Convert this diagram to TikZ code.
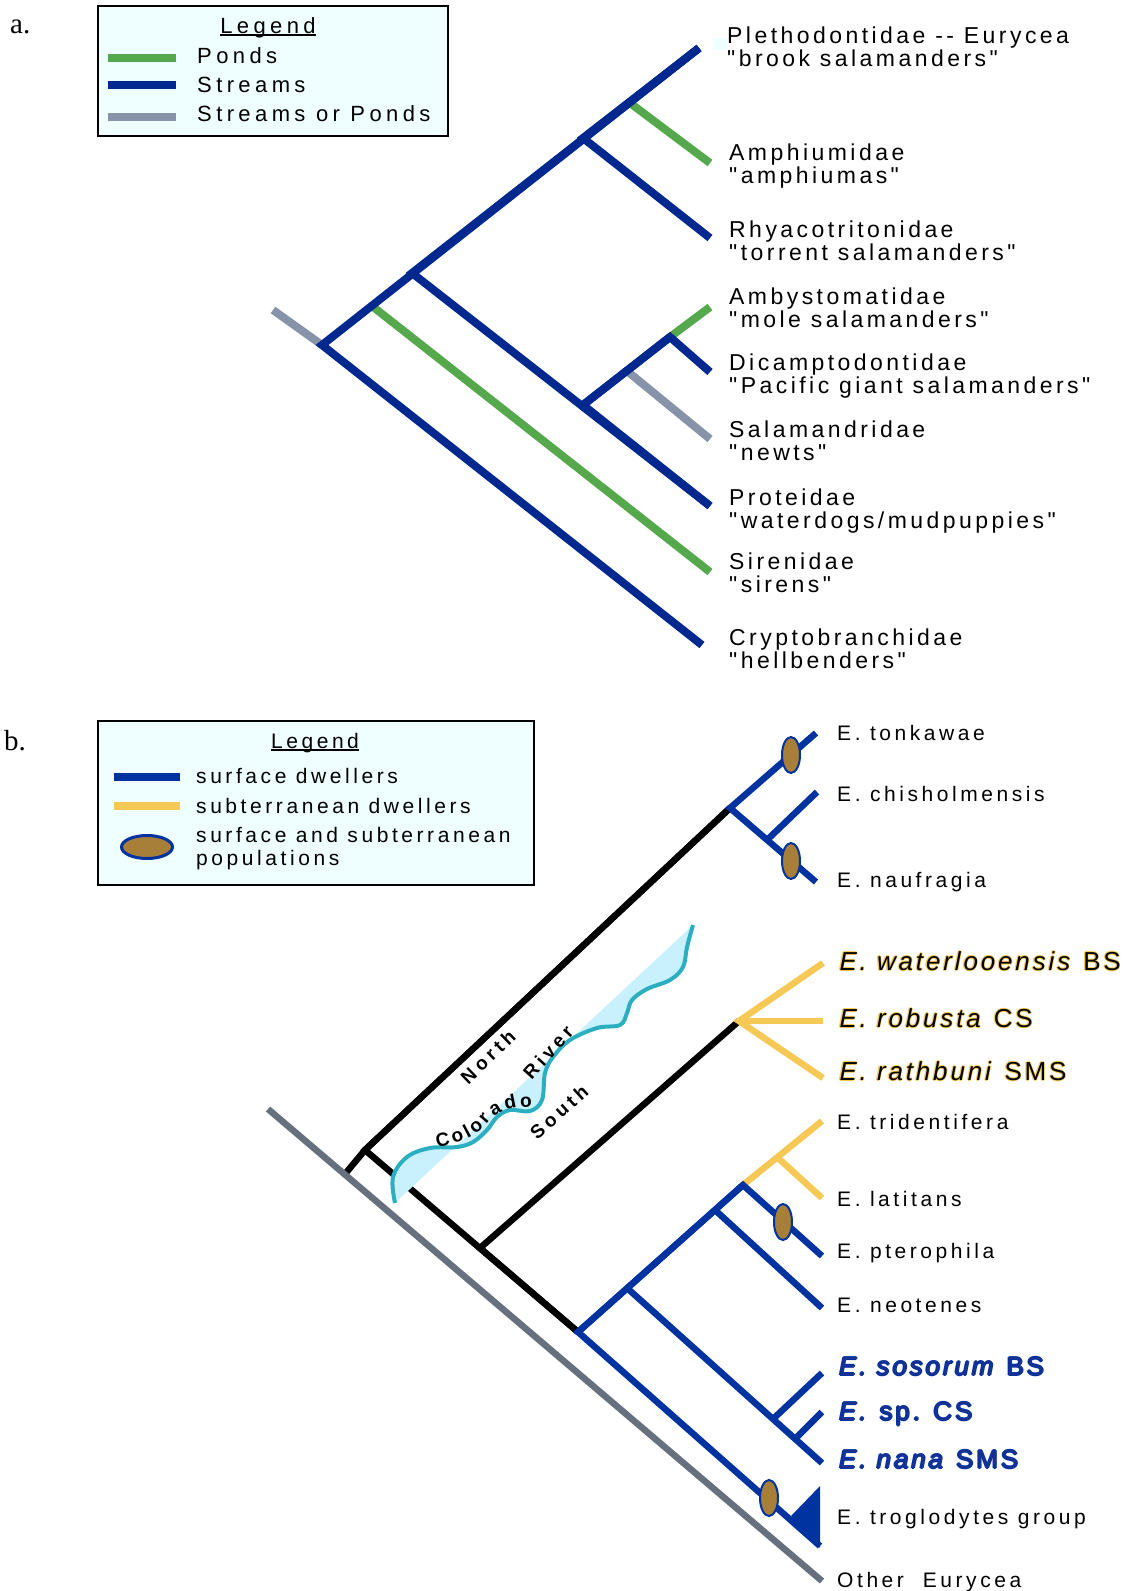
\documentclass[tikz,border=0pt]{standalone}
\usepackage{fontspec}
\setmainfont{Liberation Sans}
\newfontfamily\treefont[LetterSpace=15,Ligatures=TeXOff]{Liberation Sans}
\newfontfamily\legfont[LetterSpace=20,Ligatures=TeXOff]{Liberation Sans}
\newfontfamily\sppfont[LetterSpace=17,Ligatures=TeXOff]{Liberation Sans}
\newfontfamily\cavefont[LetterSpace=11,Ligatures=TeXOff]{Liberation Sans}
\newfontfamily\sidefont[LetterSpace=22,Ligatures=TeXOff]{Liberation Sans}
\newfontfamily\panelfont{Liberation Serif}
\usepackage{tikz}
\usetikzlibrary{shapes.geometric}
\usetikzlibrary{decorations.text}

\definecolor{streamblue}{HTML}{00288F}
\definecolor{pondgreen}{HTML}{55A84C}
\definecolor{eithergray}{HTML}{8793A8}
\definecolor{surfblue}{HTML}{0032A0}
\definecolor{subyellow}{HTML}{F6C855}
\definecolor{outgray}{HTML}{66707E}
\definecolor{popbrown}{HTML}{A87F38}
\definecolor{rivteal}{HTML}{2BAFC0}
\definecolor{rivfill}{HTML}{C8F1FD}
\definecolor{legfill}{HTML}{EFFFFF}
\definecolor{sppblue}{HTML}{1B3192}

\newcommand\ulined[1]{\setbox0\hbox{#1}\rlap{\rule[-2.5pt]{\wd0}{1.6pt}}\box0}
\newcommand\haloed[3]{\leavevmode\rlap{\color{#1}\kern-1pt#3}\rlap{\color{#1}\kern1pt#3}%
  \rlap{\color{#1}\raisebox{1pt}{#3}}\rlap{\color{#1}\raisebox{-1pt}{#3}}{\color{#2}\kern0.3pt#3}}
\newcommand\colfont{\bfseries\fontsize{19}{20}\selectfont}

\begin{document}
\begin{tikzpicture}[x=1pt, y=-1pt, line cap=butt, line join=miter]
      \tikzstyle{branch} = [line width=8pt]
      \tikzstyle{twig} = [line width=6.5pt]
      \tikzstyle{taxon} = [anchor=base west, inner sep=0pt, align=left, font=\treefont\fontsize{23}{23}\selectfont]
      \tikzstyle{legend text a} = [anchor=base west, inner sep=0pt, font=\legfont\fontsize{22}{23}\selectfont]
      \tikzstyle{species} = [anchor=base west, inner sep=0pt, align=left, font=\sppfont\fontsize{21}{23}\selectfont]
      \tikzstyle{cave species} = [anchor=base west, inner sep=0pt, font=\cavefont\fontsize{26}{28}\selectfont]
      \tikzstyle{population} = [ellipse, draw=surfblue, fill=popbrown, line width=2pt, minimum width=18pt, minimum height=36pt, inner sep=0pt]
      \tikzstyle{legend box} = [draw=black, line width=2pt, fill=legfill]
      \tikzstyle{side} = [inner sep=0pt, font=\sidefont\bfseries\fontsize{19}{20}\selectfont]
      \tikzstyle{panel} = [anchor=base west, inner sep=0pt, font=\panelfont\fontsize{29}{30}\selectfont]
      \useasboundingbox (0,0) rectangle (1132,1591);

      %%% a. families
      %nodes
      \node[panel] (panel a) at (10,33) {a.};
      \draw[legend box] (98,6) rectangle (448,136);
      \node[legend text a, anchor=base] (legend a) at (268,33) {\ulined{Legend}};
      \node[legend text a] (key ponds) at (197,63) {Ponds};
      \node[legend text a] (key streams) at (197,92) {Streams};
      \node[legend text a] (key either) at (197,121) {Streams or Ponds};
      \fill[legfill] (713,38) rectangle (727,50);
      % base of a two-line node = its second line
      \node[taxon] (pleth) at (727,66) {Plethodontidae -- Eurycea\\"brook salamanders"};
      \node[taxon] (amph) at (729,183) {Amphiumidae\\"amphiumas"};
      \node[taxon] (rhya) at (729,260.5) {Rhyacotritonidae\\"torrent salamanders"};
      \node[taxon] (amby) at (729,327.5) {Ambystomatidae\\"mole salamanders"};
      \node[taxon] (dica) at (729,393.5) {Dicamptodontidae\\"Pacific giant salamanders"};
      \node[taxon] (sala) at (729,460.5) {Salamandridae\\"newts"};
      \node[taxon] (prot) at (729,528.5) {Proteidae\\"waterdogs/mudpuppies"};
      \node[taxon] (sire) at (729,592.5) {Sirenidae\\"sirens"};
      \node[taxon] (cryp) at (729,668.5) {Cryptobranchidae\\"hellbenders"};

      \coordinate (a stem) at (273,310);
      \coordinate (a root) at (322,345);
      \coordinate (a sir) at (372,306);
      \coordinate (a pro) at (412,273);
      \coordinate (a rhy) at (583,138);
      \coordinate (a amp) at (630,103);
      \coordinate (a top) at (699,48);
      \coordinate (a cla) at (583,405);
      \coordinate (a sal) at (627,371);
      \coordinate (a dic) at (670,337);
      \coordinate (e cry) at (702,645);
      \coordinate (e sir) at (710,572);
      \coordinate (e pro) at (710,506);
      \coordinate (e sal) at (710,439);
      \coordinate (e dic) at (710,372);
      \coordinate (e amb) at (710,307);
      \coordinate (e rhy) at (710,238);
      \coordinate (e amp) at (710,163);

      %lines
      \draw[branch, pondgreen] (108,58) -- (176,58);
      \draw[branch, streamblue] (108,85) -- (176,85);
      \draw[branch, eithergray] (108,117) -- (176,117);
      \draw[branch, eithergray] (a stem) -- (a root);
      \draw[branch, eithergray] (a sal) -- (e sal);
      \draw[branch, pondgreen] (a sir) -- (e sir);
      \draw[branch, pondgreen] (a amp) -- (e amp);
      \draw[branch, pondgreen] (a dic) -- (e amb);
      \draw[branch, streamblue] (e cry) -- (a root) -- (a top);
      \draw[branch, streamblue] (e pro) -- (a pro) -- (a top);
      \draw[branch, streamblue] (e rhy) -- (a rhy) -- (a top);
      \draw[branch, streamblue] (e pro) -- (a cla) -- (a dic);
      \draw[branch, streamblue] (e dic) -- (a dic) -- (a cla);

      %%% b. Eurycea
      %nodes
      \node[panel] (panel b) at (4,750) {b.};
      \draw[legend box] (98,721) rectangle (534,885);
      \node[species, anchor=base] (legend b) at (315,748) {\ulined{Legend}};
      \node[species] (key surface) at (196,783) {surface dwellers};
      \node[species] (key sub) at (196,813) {subterranean dwellers};
      \node[species] (key both) at (196,865) {surface and subterranean\\populations};
      \draw[line width=8pt, surfblue] (114,777) -- (180,777);
      \draw[line width=8pt, subyellow] (114,806) -- (180,806);
      \node[population, minimum width=51pt, minimum height=23pt, line width=3pt] (key pop) at (147,847) {};

      \node[species] (ton) at (837,740) {E. tonkawae};
      \node[species] (chi) at (837,801) {E. chisholmensis};
      \node[species] (nau) at (837,887) {E. naufragia};
      \node[cave species] (wat) at (839,970) {\haloed{subyellow}{black}{\textit{E. waterlooensis} BS}};
      \node[cave species] (rob) at (839,1027) {\haloed{subyellow}{black}{\textit{E. robusta} CS}};
      \node[cave species] (rat) at (839,1080) {\haloed{subyellow}{black}{\textit{E. rathbuni} SMS}};
      \node[species] (tri) at (837,1129) {E. tridentifera};
      \node[species] (lat) at (837,1206) {E. latitans};
      \node[species] (pte) at (837,1258) {E. pterophila};
      \node[species] (neo) at (837,1312) {E. neotenes};
      \node[cave species] (sos) at (839,1375) {\haloed{surfblue}{sppblue}{\textit{E. sosorum} BS}};
      \node[cave species] (spc) at (839,1420) {\haloed{surfblue}{sppblue}{\textit{E.} sp. CS}};
      \node[cave species] (nan) at (839,1468) {\haloed{surfblue}{sppblue}{\textit{E. nana} SMS}};
      \node[species] (tro) at (837,1524) {E. troglodytes group};
      \node[species] (oth) at (837,1587) {Other\ \ Eurycea};

      \coordinate (b gray) at (268,1109);
      \coordinate (e oth) at (822,1581);
      \coordinate (b stem) at (345,1174);
      \coordinate (b split) at (365,1150);
      \coordinate (b north) at (730,808);
      \coordinate (b south) at (480,1248);
      \coordinate (b yel) at (739,1021);
      \coordinate (b blue) at (578,1332);
      \coordinate (b nau) at (767,840);
      \coordinate (e ton) at (816,733);
      \coordinate (e chi) at (817,792);
      \coordinate (e nau) at (816,882);
      \coordinate (e wat) at (823,963);
      \coordinate (e rob) at (823,1021);
      \coordinate (e rat) at (823,1078);
      \coordinate (b c1) at (627,1288);
      \coordinate (b c2) at (715,1210);
      \coordinate (b c3) at (743,1185);
      \coordinate (b tri) at (777,1157);
      \coordinate (e tri) at (822,1121);
      \coordinate (e lat) at (822,1198);
      \coordinate (e pte) at (822,1256);
      \coordinate (e neo) at (822,1308);
      \coordinate (b s1) at (773,1419);
      \coordinate (b s2) at (795,1439);
      \coordinate (e sos) at (822,1373);
      \coordinate (e sp) at (822,1412);
      \coordinate (e nan) at (822,1463);
      \coordinate (e tro) at (820,1546);
      \coordinate (t tip) at (791,1516);
      \coordinate (t top) at (820,1486);
      \coordinate (t bot) at (820,1548);

      %lines
      \draw[twig] (b stem) -- (b split) -- (b north);
      \draw[twig] (b blue) -- (b split) -- (b north);
      \draw[twig] (b yel) -- (b south) -- (b blue);
      \draw[twig, outgray] (b gray) -- (e oth);
      \draw[twig, subyellow] (e wat) -- (b yel) -- (e rat);
      \draw[twig, subyellow] (b yel) -- (e rob);
      \draw[twig, subyellow] (b c3) -- (e tri);
      \draw[twig, subyellow] (b tri) -- (e lat);
      \draw[twig, surfblue] (e ton) -- (b north) -- (e nau);
      \draw[twig, surfblue] (e chi) -- (b nau);
      \draw[twig, surfblue] (e tro) -- (b blue) -- (b c3);
      \draw[twig, surfblue] (e pte) -- (b c3) -- (b blue);
      \draw[twig, surfblue] (e neo) -- (b c2);
      \draw[twig, surfblue] (e nan) -- (b c1);
      \draw[twig, surfblue] (e sos) -- (b s1);
      \draw[twig, surfblue] (e sp) -- (b s2);
      \fill[surfblue] (t tip) -- (t top) -- (t bot) -- cycle;
      \node[population] (pop ton) at (791,755) {};
      \node[population] (pop nau) at (791,861) {};
      \node[population] (pop pte) at (783,1222) {};
      \node[population] (pop tro) at (769,1498) {};

      %river
      \fill[rivfill] plot[smooth, tension=0.6] coordinates {(395,1203) (393,1177) (407,1157) (430,1148)
         (457,1147) (473,1142) (487,1130) (497,1117) (510,1110) (530,1111) (542,1100) (545,1073)
         (553,1057) (570,1040) (597,1028) (620,1025) (627,1013) (632,1000) (647,989) (670,980)
         (683,967) (687,947) (693,925)} -- cycle;
      \draw[rivteal, line width=4pt] plot[smooth, tension=0.6] coordinates {(395,1203) (393,1177) (407,1157) (430,1148)
         (457,1147) (473,1142) (487,1130) (497,1117) (510,1110) (530,1111) (542,1100) (545,1073)
         (553,1057) (570,1040) (597,1028) (620,1025) (627,1013) (632,1000) (647,989) (670,980)
         (683,967) (687,947) (693,925)};
      \node[side, rotate=44] (north) at (488,1057) {North};
      \node[side, rotate=42] (south) at (559,1112) {South};
      \node[side, rotate=48] (river) at (548,1052) {River};
      \path[decorate, decoration={text along path, text align=fit to path, text={|\colfont|Colorado}}]
         (437,1147) .. controls (462,1143) and (477,1136) .. (488,1122) .. controls (497,1111) and (510,1107) .. (532,1107);
\end{tikzpicture}
\end{document}
